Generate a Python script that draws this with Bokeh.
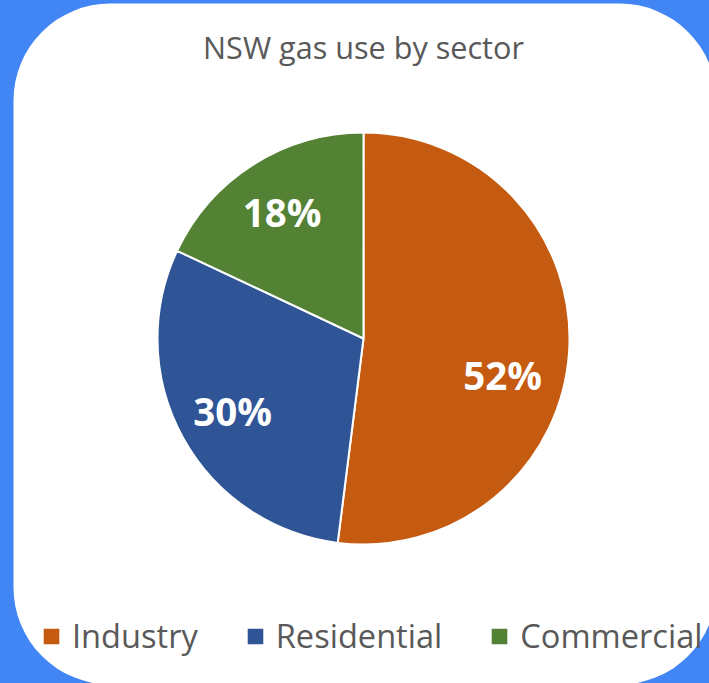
import numpy as np
from bokeh.plotting import figure
from bokeh.models import (ColumnDataSource, Range1d, Label, Legend, LegendItem,
                          GlobalInlineStyleSheet)
from bokeh.core.properties import value
from bokeh.embed import file_html
from bokeh.resources import INLINE

# ---- data ----
sectors = ["Industry", "Residential", "Commercial"]
shares = [52, 30, 18]
colors = ["#C55A11", "#2F5597", "#548235"]
title_text = "NSW gas use by sector"

# ---- layout (page pixel coordinates) ----
PAGE_W, PAGE_H = 709, 683
OFF = 0
W, H = PAGE_W - 2 * OFF, PAGE_H - 2 * OFF
BLUE = "#4285F4"
GREY = "#595959"


def py(y):
    return PAGE_H - y


p = figure(width=W, height=H, output_backend="svg", toolbar_location=None,
           x_range=Range1d(OFF, OFF + W), y_range=Range1d(PAGE_H - OFF - H, PAGE_H - OFF),
           x_axis_type=None, y_axis_type=None, min_border=0,
           background_fill_color=BLUE, border_fill_color=BLUE,
           outline_line_color=None)
p.grid.visible = False
p.stylesheets = [GlobalInlineStyleSheet(css="html, body { background-color: #4285F4; }")]

# white rounded card
p.quad(left=13, right=716, bottom=py(684), top=py(3), fill_color="white",
       line_color=None, border_radius=97)

# pie
cx, cy, R = 363, py(338), 206
frac = np.array(shares, dtype=float) / np.sum(shares)
cum = np.concatenate([[0.0], np.cumsum(frac)])
start = np.pi / 2 - 2 * np.pi * cum[:-1]
end = np.pi / 2 - 2 * np.pi * cum[1:]
mid = (start + end) / 2
nudge_x = np.array([-9.0, -1.0, -2.0])
nudge_y = np.array([-27.0, -1.0, 1.0])
lx = cx + 0.72 * R * np.cos(mid) + nudge_x
ly = cy + 0.72 * R * np.sin(mid) + nudge_y

src = ColumnDataSource(dict(sector=sectors, share=shares, color=colors,
                            start=start, end=end, lx=lx, ly=ly,
                            label=[f"{s}%" for s in shares]))

r = p.wedge(x=cx, y=cy, radius=R, start_angle="start", end_angle="end",
            direction="clock", fill_color="color", line_color="white",
            line_width=2, source=src)

p.text(x="lx", y="ly", text="label", source=src, text_align="center",
       text_baseline="middle", text_color="white", text_font=value("Open Sans"),
       text_font_style="bold", text_font_size="38.5px")

# title
p.add_layout(Label(x=363, y=py(46), text=title_text, text_align="center",
                   text_baseline="alphabetic", text_font="Open Sans",
                   text_font_size="30.6px", text_color=GREY))

# legend
items = [LegendItem(label=s, renderers=[r], index=i) for i, s in enumerate(sectors)]
legend = Legend(items=items, orientation="horizontal", location=(40, 25),
                glyph_width=22, glyph_height=22, label_standoff=10, spacing=46,
                padding=0, margin=0, border_line_color=None,
                background_fill_alpha=0, label_text_font="Open Sans",
                label_text_font_size="32.6px", label_text_color=GREY)
p.add_layout(legend)

open("out.html", "w").write(file_html(p, INLINE))
